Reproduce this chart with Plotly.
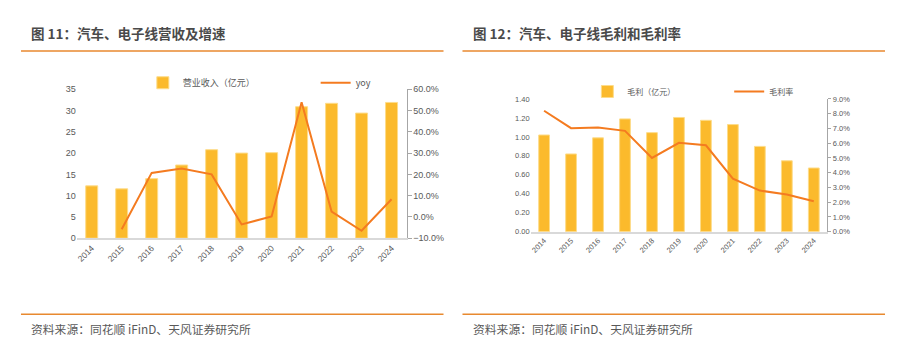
import plotly.graph_objects as go

years = ["2014", "2015", "2016", "2017", "2018", "2019", "2020", "2021", "2022", "2023", "2024"]
revenue = [12.3, 11.6, 14.0, 17.2, 20.8, 20.0, 20.1, 30.9, 31.7, 29.4, 31.9]
yoy = [None, -5.8, 20.7, 22.7, 20.0, -3.5, 0.2, 53.9, 2.5, -6.5, 8.3]
gross_profit = [1.02, 0.82, 0.99, 1.19, 1.045, 1.205, 1.175, 1.13, 0.90, 0.748, 0.672]
gross_margin = [8.2, 7.02, 7.07, 6.84, 5.0, 6.03, 5.86, 3.6, 2.79, 2.52, 2.06]

W, H = 899, 354
BAR = "#FBBA2C"
BAR_EDGE = "#FDDC8A"
LINE = "#F47B20"
ORANGE_RULE = "#E8892F"
TXT = "#4A4A4A"
TICK = "#595959"
CJK = "Noto Sans CJK SC"
NUM = "Liberation Sans"

def px(x):
    return x / W

def py(y):
    return 1 - y / H

fig = go.Figure()

fig.add_trace(go.Bar(x=years, y=revenue, name="营业收入（亿元）", marker=dict(color=BAR, line=dict(color=BAR_EDGE, width=1)),
                     width=0.4, xaxis="x", yaxis="y", legend="legend"))
fig.add_trace(go.Scatter(x=years, y=yoy, name="yoy", mode="lines", line=dict(color=LINE, width=2),
                         xaxis="x", yaxis="y2", legend="legend2", connectgaps=False))
fig.add_trace(go.Bar(x=years, y=gross_profit, name="毛利（亿元）", marker=dict(color=BAR, line=dict(color=BAR_EDGE, width=1)),
                     width=0.4, xaxis="x3", yaxis="y3", legend="legend3"))
fig.add_trace(go.Scatter(x=years, y=gross_margin, name="毛利率", mode="lines", line=dict(color=LINE, width=2),
                         xaxis="x3", yaxis="y4", legend="legend4"))

dom1 = [py(240), py(86.7)]
dom2 = [py(233.3), py(96.7)]

xcommon = dict(type="category", showgrid=False, zeroline=False, showline=True, linecolor="#D9D9D9", linewidth=1.5,
               ticks="", tickangle=-45, fixedrange=True)
fig.update_layout(
    width=W, height=H, margin=dict(l=0, r=0, t=0, b=0),
    paper_bgcolor="white", plot_bgcolor="white",
    font=dict(family=NUM, color=TICK),
    bargap=0.6,
    xaxis=dict(domain=[px(75.8), px(406)], anchor="y", tickfont=dict(size=8.5, family=NUM, color=TICK), **xcommon),
    yaxis=dict(domain=dom1, range=[0, 35], dtick=5, showgrid=False, zeroline=False, showline=False, ticks="",
               tickfont=dict(size=9, family=NUM, color=TICK), anchor="x"),
    yaxis2=dict(domain=dom1, range=[-10, 60], dtick=10, overlaying="y", side="right", anchor="x",
                tickformat=".1f", ticksuffix="%", showgrid=False, zeroline=False, showline=True,
                linecolor="#A6A6A6", linewidth=1, ticks="outside", ticklen=4, tickcolor="#A6A6A6",
                tickfont=dict(size=9, family=NUM, color=TICK)),
    xaxis3=dict(domain=[px(530.2), px(827.2)], anchor="y3", tickfont=dict(size=7.5, family=NUM, color=TICK), **xcommon),
    yaxis3=dict(domain=dom2, range=[0, 1.4], dtick=0.2, tickformat=".2f", showgrid=False, zeroline=False,
                showline=False, ticks="", tickfont=dict(size=7.5, family=NUM, color=TICK), anchor="x3"),
    yaxis4=dict(domain=dom2, range=[0, 9], dtick=1, overlaying="y3", side="right", anchor="x3",
                tickformat=".1f", ticksuffix="%", showgrid=False, zeroline=False, showline=True,
                linecolor="#A6A6A6", linewidth=1, ticks="outside", ticklen=3, tickcolor="#A6A6A6",
                tickfont=dict(size=7.5, family=NUM, color=TICK)),
    showlegend=True,
)

leg = dict(orientation="h", yanchor="middle", xanchor="left", bgcolor="rgba(0,0,0,0)",
           itemwidth=30, tracegroupgap=0)
fig.update_layout(
    legend=dict(x=px(142), y=py(80), font=dict(size=9, family=CJK, color=TICK), **leg),
    legend2=dict(x=px(315), y=py(80), font=dict(size=9, family=CJK, color=TICK), **leg),
    legend3=dict(x=px(587), y=py(89), font=dict(size=8, family=CJK, color=TICK), **leg),
    legend4=dict(x=px(729), y=py(89), font=dict(size=8, family=CJK, color=TICK), **leg),
)

annotations = [
    dict(text="<b>图 11：汽车、电子线营收及增速</b>", x=px(28), y=py(29), xanchor="left", yanchor="middle",
         font=dict(size=13.5, family=CJK, color=TXT)),
    dict(text="<b>图 12：汽车、电子线毛利和毛利率</b>", x=px(471), y=py(29), xanchor="left", yanchor="middle",
         font=dict(size=13.5, family=CJK, color=TXT)),
    dict(text="资料来源：同花顺 iFinD、天风证券研究所", x=px(28), y=py(333), xanchor="left", yanchor="middle",
         font=dict(size=11.8, family=CJK, color=TICK)),
    dict(text="资料来源：同花顺 iFinD、天风证券研究所", x=px(471), y=py(333), xanchor="left", yanchor="middle",
         font=dict(size=11.8, family=CJK, color=TICK)),
]
for a in annotations:
    a.update(xref="paper", yref="paper", showarrow=False)
fig.update_layout(annotations=annotations)

shapes = []
for (x0, x1) in [(20, 443), (462, 885)]:
    for yy in [47.3, 318.3]:
        shapes.append(dict(type="line", xref="paper", yref="paper", x0=px(x0), x1=px(x1), y0=py(yy), y1=py(yy),
                           line=dict(color=ORANGE_RULE, width=1.5)))
fig.update_layout(shapes=shapes)

fig.write_html("out.html")
